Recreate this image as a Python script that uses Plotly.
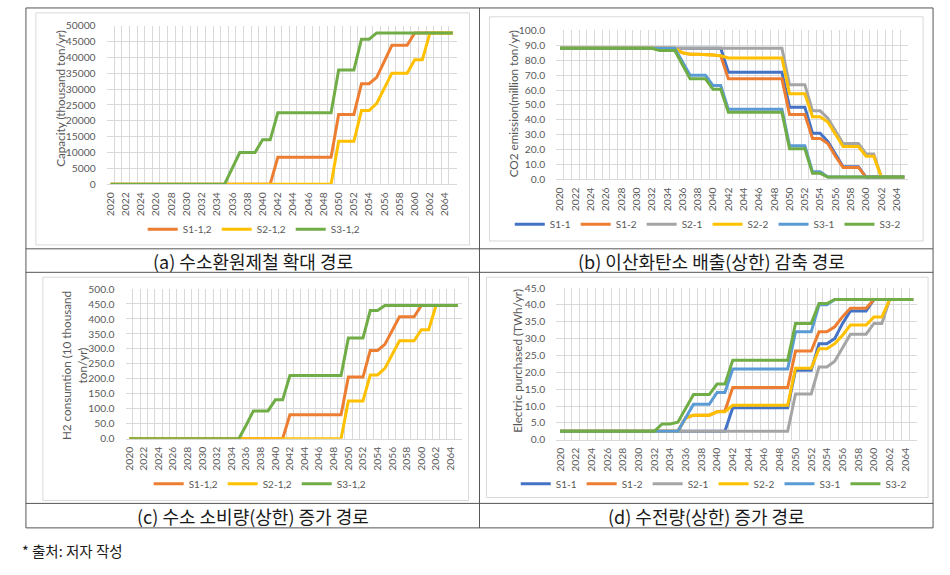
import plotly.graph_objects as go

W, H = 950, 575

# ---------------- data ----------------
years = list(range(2020, 2066))
xtick_labels = list(range(2020, 2065, 2))

# (a) Capacity (thousand ton/yr)
cap_s1 = [0, 0, 0, 0, 0, 0, 0, 0, 0, 0,
          0, 0, 0, 0, 0, 0, 0, 0, 0, 0,
          0, 0, 8500, 8500, 8500, 8500, 8500, 8500, 8500, 8500,
          22000, 22000, 22000, 31700, 31700, 33700, 38600, 43800, 43800, 43800,
          47700, 47700, 47700, 47700, 47700, 47700]
cap_s2 = [0, 0, 0, 0, 0, 0, 0, 0, 0, 0,
          0, 0, 0, 0, 0, 0, 0, 0, 0, 0,
          0, 0, 0, 0, 0, 0, 0, 0, 0, 0,
          13500, 13500, 13500, 23200, 23200, 25500, 30400, 35000, 35000, 35000,
          39200, 39200, 47700, 47700, 47700, 47700]
cap_s3 = [0, 0, 0, 0, 0, 0, 0, 0, 0, 0,
          0, 0, 0, 0, 0, 0, 5000, 10000, 10000, 10000,
          14000, 14000, 22500, 22500, 22500, 22500, 22500, 22500, 22500, 22500,
          36000, 36000, 36000, 45700, 45700, 47700, 47700, 47700, 47700, 47700,
          47700, 47700, 47700, 47700, 47700, 47700]

# (b) CO2 emission (million ton/yr)
co2_s11 = [88, 88, 88, 88, 88, 88, 88, 88, 88, 88,
           88, 88, 88, 88, 88, 88, 88, 88, 88, 88,
           88, 88, 72, 72, 72, 72, 72, 72, 72, 72,
           48.5, 48.5, 48.5, 31, 31, 25.5, 17, 8.5, 8.5, 8.5,
           1.5, 1.5, 1.5, 1.5, 1.5, 1.5]
co2_s12 = [88, 88, 88, 88, 88, 88, 88, 88, 88, 88,
           88, 88, 88, 88, 88, 88, 85, 84, 84, 84,
           83.5, 83, 67.5, 67.5, 67.5, 67.5, 67.5, 67.5, 67.5, 67.5,
           43.5, 43.5, 43.5, 27.5, 27.5, 24, 15.5, 8, 8, 8,
           1.5, 1.5, 1.5, 1.5, 1.5, 1.5]
co2_s21 = [88, 88, 88, 88, 88, 88, 88, 88, 88, 88,
           88, 88, 88, 88, 88, 88, 88, 88, 88, 88,
           88, 88, 88, 88, 88, 88, 88, 88, 88, 88,
           63.5, 63.5, 63.5, 46, 46, 41, 32.5, 24, 24, 24,
           17, 17, 1.5, 1.5, 1.5, 1.5]
co2_s22 = [88, 88, 88, 88, 88, 88, 88, 88, 88, 88,
           88, 88, 88, 88, 88, 88, 85, 84, 84, 84,
           83.5, 83, 81.5, 81.5, 81.5, 81.5, 81.5, 81.5, 81.5, 81.5,
           57.5, 57.5, 57.5, 42, 42, 38.5, 30, 22, 22, 22,
           15.5, 15.5, 1.5, 1.5, 1.5, 1.5]
co2_s31 = [88, 88, 88, 88, 88, 88, 88, 88, 88, 88,
           88, 88, 88, 88, 88, 88, 79, 70, 70, 70,
           63, 63, 47, 47, 47, 47, 47, 47, 47, 47,
           22.5, 22.5, 22.5, 5, 5, 1.5, 1.5, 1.5, 1.5, 1.5,
           1.5, 1.5, 1.5, 1.5, 1.5, 1.5]
co2_s32 = [88, 88, 88, 88, 88, 88, 88, 88, 88, 88,
           88, 88, 88, 86.5, 86.5, 86.5, 77, 67.5, 67.5, 67.5,
           60.5, 60.5, 45, 45, 45, 45, 45, 45, 45, 45,
           20.5, 20.5, 20.5, 4, 4, 1.5, 1.5, 1.5, 1.5, 1.5,
           1.5, 1.5, 1.5, 1.5, 1.5, 1.5]

# (c) H2 consumption (10 thousand ton/yr)
h2_s1 = [0, 0, 0, 0, 0, 0, 0, 0, 0, 0,
         0, 0, 0, 0, 0, 0, 0, 0, 0, 0,
         0, 0, 80, 80, 80, 80, 80, 80, 80, 80,
         206, 206, 206, 295, 295, 315, 360, 407, 407, 407,
         445, 445, 445, 445, 445, 445]
h2_s2 = [0, 0, 0, 0, 0, 0, 0, 0, 0, 0,
         0, 0, 0, 0, 0, 0, 0, 0, 0, 0,
         0, 0, 0, 0, 0, 0, 0, 0, 0, 0,
         126, 126, 126, 213, 213, 235, 280, 327, 327, 327,
         364, 364, 445, 445, 445, 445]
h2_s3 = [0, 0, 0, 0, 0, 0, 0, 0, 0, 0,
         0, 0, 0, 0, 0, 0, 45, 93, 93, 93,
         130, 130, 211, 211, 211, 211, 211, 211, 211, 211,
         336, 336, 336, 428, 428, 445, 445, 445, 445, 445,
         445, 445, 445, 445, 445, 445]

# (d) Electric purchased (TWh/yr)
el_s11 = [2.5, 2.5, 2.5, 2.5, 2.5, 2.5, 2.5, 2.5, 2.5, 2.5,
          2.5, 2.5, 2.5, 2.5, 2.5, 2.5, 2.5, 2.5, 2.5, 2.5,
          2.5, 2.5, 9.5, 9.5, 9.5, 9.5, 9.5, 9.5, 9.5, 9.5,
          20.6, 20.6, 20.6, 28.5, 28.5, 30, 34.5, 38.2, 38.2, 38.2,
          41.6, 41.6, 41.6, 41.6, 41.6, 41.6]
el_s12 = [2.5, 2.5, 2.5, 2.5, 2.5, 2.5, 2.5, 2.5, 2.5, 2.5,
          2.5, 2.5, 2.5, 2.5, 2.5, 2.5, 6.5, 7.3, 7.3, 7.3,
          8.3, 8.5, 15.5, 15.5, 15.5, 15.5, 15.5, 15.5, 15.5, 15.5,
          26.3, 26.3, 26.3, 32, 32, 33.5, 36.5, 39, 39, 39,
          41.6, 41.6, 41.6, 41.6, 41.6, 41.6]
el_s21 = [2.5, 2.5, 2.5, 2.5, 2.5, 2.5, 2.5, 2.5, 2.5, 2.5,
          2.5, 2.5, 2.5, 2.5, 2.5, 2.5, 2.5, 2.5, 2.5, 2.5,
          2.5, 2.5, 2.5, 2.5, 2.5, 2.5, 2.5, 2.5, 2.5, 2.5,
          13.6, 13.6, 13.6, 21.6, 21.6, 23.3, 27.5, 31.3, 31.3, 31.3,
          34.5, 34.5, 41.6, 41.6, 41.6, 41.6]
el_s22 = [2.5, 2.5, 2.5, 2.5, 2.5, 2.5, 2.5, 2.5, 2.5, 2.5,
          2.5, 2.5, 2.5, 2.5, 2.5, 2.5, 6.5, 7.3, 7.3, 7.3,
          8.3, 8.3, 10.2, 10.2, 10.2, 10.2, 10.2, 10.2, 10.2, 10.2,
          21.2, 21.2, 21.2, 27, 27, 28.5, 31, 34, 34, 34,
          36.4, 36.4, 41.6, 41.6, 41.6, 41.6]
el_s31 = [2.5, 2.5, 2.5, 2.5, 2.5, 2.5, 2.5, 2.5, 2.5, 2.5,
          2.5, 2.5, 2.5, 2.5, 2.5, 2.5, 6.5, 10.5, 10.5, 10.5,
          14, 14, 21, 21, 21, 21, 21, 21, 21, 21,
          32, 32, 32, 40, 40, 41.6, 41.6, 41.6, 41.6, 41.6,
          41.6, 41.6, 41.6, 41.6, 41.6, 41.6]
el_s32 = [2.5, 2.5, 2.5, 2.5, 2.5, 2.5, 2.5, 2.5, 2.5, 2.5,
          2.5, 2.5, 2.5, 4.7, 4.7, 5.2, 9.5, 13.4, 13.4, 13.4,
          16.5, 16.5, 23.6, 23.6, 23.6, 23.6, 23.6, 23.6, 23.6, 23.6,
          34.5, 34.5, 34.5, 40.4, 40.4, 41.6, 41.6, 41.6, 41.6, 41.6,
          41.6, 41.6, 41.6, 41.6, 41.6, 41.6]

names3 = ["S1-1,2", "S2-1,2", "S3-1,2"]
names6 = ["S1-1", "S1-2", "S2-1", "S2-2", "S3-1", "S3-2"]
colors3 = ["#ED7D31", "#FFC000", "#70AD47"]
colors6 = ["#4472C4", "#ED7D31", "#A5A5A5", "#FFC000", "#5B9BD5", "#70AD47"]

captions = ["(a) 수소환원제철 확대 경로", "(b) 이산화탄소 배출(상한) 감축 경로",
            "(c) 수소 소비량(상한) 증가 경로", "(d) 수전량(상한) 증가 경로"]
ytitles = ["Capacity (thousand ton/yr)", "CO2 emission(million ton/yr)",
           "H2 consumtion (10 thousand<br>ton/yr)", "Electric purchased (TWh/yr)"]
footnote = "* 출처: 저자 작성"

# ---------------- layout helpers ----------------
def px(x):
    return x / W

def py(y):
    return 1 - y / H

FONT = "Lato, 'Open Sans', sans-serif"
KFONT = "'Noto Sans CJK KR', sans-serif"
TXT = "#595959"
GRID = "#D9D9D9"

fig = go.Figure()

panels = [
    dict(box=(104, 455, 20, 182), yr=[0, 50000], dt=5000, fmt=".0f",
         leg=(252, 228), ttl=(57, 94),
         series=[cap_s1, cap_s2, cap_s3], names=names3, colors=colors3),
    dict(box=(555, 908, 25, 177), yr=[0, 100], dt=10, fmt=".1f",
         leg=(707, 223), ttl=(512, 100),
         series=[co2_s11, co2_s12, co2_s21, co2_s22, co2_s31, co2_s32],
         names=names6, colors=colors6),
    dict(box=(123, 460, 289, 442), yr=[0, 500], dt=50, fmt=".1f",
         leg=(258, 488), ttl=(71, 367),
         series=[h2_s1, h2_s2, h2_s3], names=names3, colors=colors3),
    dict(box=(555, 917, 288, 443), yr=[0, 45], dt=5, fmt=".1f",
         leg=(713, 488), ttl=(516, 362),
         series=[el_s11, el_s12, el_s21, el_s22, el_s31, el_s32],
         names=names6, colors=colors6),
]

annotations = []
for i, p in enumerate(panels):
    k = "" if i == 0 else str(i + 1)
    xa, ya = "x" + k, "y" + k
    lg = "legend" + k
    x0, x1, yt, yb = p["box"]
    for s, n, c in zip(p["series"], p["names"], p["colors"]):
        fig.add_trace(go.Scatter(x=years, y=s, name=n, mode="lines",
                                 line=dict(color=c, width=3),
                                 xaxis=xa, yaxis=ya, legend=lg))
    fig.layout["xaxis" + k] = dict(
        domain=[px(x0), px(x1)], anchor=ya, range=[2019.5, 2065.5],
        tickmode="array", tickvals=xtick_labels,
        ticktext=[str(v) for v in xtick_labels], tickangle=-90,
        showgrid=False, zeroline=False, showline=True, linecolor=GRID,
        ticks="outside", ticklen=3, tickcolor="rgba(0,0,0,0)",
        tickfont=dict(family=FONT, size=10.3, color=TXT),
        minor=dict(tickmode="linear", tick0=2019.5, dtick=1, showgrid=True,
                   gridcolor=GRID, gridwidth=1, ticks=""),
        fixedrange=True)
    fig.layout["yaxis" + k] = dict(
        domain=[py(yb), py(yt)], anchor=xa, range=p["yr"],
        tickmode="linear", tick0=0, dtick=p["dt"], tickformat=p["fmt"],
        showgrid=True, gridcolor=GRID, gridwidth=1, zeroline=False,
        showline=False, ticks="outside", ticklen=8, tickcolor="rgba(0,0,0,0)",
        tickfont=dict(family=FONT, size=10.3, color=TXT), fixedrange=True)
    fig.layout[lg] = dict(
        orientation="h", x=px(p["leg"][0]), xanchor="center",
        y=py(p["leg"][1]), yanchor="middle", bgcolor="rgba(0,0,0,0)",
        font=dict(family=FONT, size=10, color=TXT), itemwidth=30,
        traceorder="normal")
    annotations.append(dict(
        text=ytitles[i], xref="paper", yref="paper",
        x=px(p["ttl"][0]), y=py(p["ttl"][1]), xanchor="center", yanchor="middle",
        textangle=-90, showarrow=False,
        font=dict(family=FONT, size=11.7, color=TXT)))

# captions
cap_pos = [(251, 260), (711, 260), (251, 520.5), (705.5, 520.5)]
for t, (cx, cy) in zip(captions, cap_pos):
    annotations.append(dict(text=t, xref="paper", yref="paper",
                            x=px(cx), y=py(cy), xanchor="center", yanchor="middle",
                            showarrow=False,
                            font=dict(family=KFONT, size=18, color="#1a1a1a")))
annotations.append(dict(text=footnote, xref="paper", yref="paper",
                        x=px(17), y=py(556), xanchor="left", yanchor="middle",
                        showarrow=False,
                        font=dict(family=KFONT, size=14.5, color="#1a1a1a")))

shapes = []
TL = "#555555"
# table frame
shapes.append(dict(type="rect", xref="paper", yref="paper",
                   x0=px(23), x1=px(933), y0=py(533), y1=py(2),
                   line=dict(color=TL, width=1)))
shapes.append(dict(type="line", xref="paper", yref="paper",
                   x0=px(478), x1=px(478), y0=py(533), y1=py(2),
                   line=dict(color=TL, width=1)))
for yy in (248, 272, 508):
    shapes.append(dict(type="line", xref="paper", yref="paper",
                       x0=px(23), x1=px(933), y0=py(yy), y1=py(yy),
                       line=dict(color=TL, width=1)))
# chart area boxes
for (bx0, by0, bx1, by1) in [(33, 7, 468, 244), (488, 11, 923, 240),
                             (40, 277, 467, 505), (485, 277, 928, 502)]:
    shapes.append(dict(type="rect", xref="paper", yref="paper",
                       x0=px(bx0), x1=px(bx1), y0=py(by1), y1=py(by0),
                       line=dict(color=GRID, width=1), layer="below"))

fig.update_layout(
    width=W, height=H, margin=dict(l=0, r=0, t=0, b=0),
    paper_bgcolor="white", plot_bgcolor="rgba(0,0,0,0)",
    annotations=annotations, shapes=shapes,
    font=dict(family=FONT, color=TXT),
    hovermode=False)

fig.write_html("out.html")
